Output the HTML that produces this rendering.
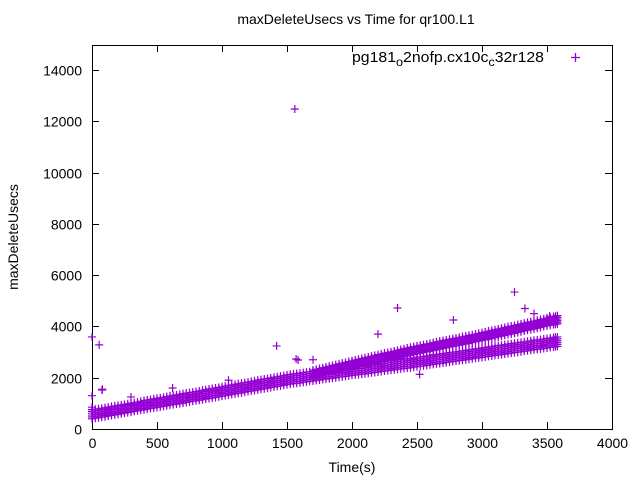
<!DOCTYPE html>
<html><head><meta charset="utf-8"><style>
body{margin:0;background:#fff}
svg{display:block;font-family:"Liberation Sans",sans-serif}
</style></head><body>
<svg id="chart" width="640" height="480">
<text x="356" y="24" text-anchor="middle" font-size="14">maxDeleteUsecs vs Time for qr100.L1</text>
<text x="352" y="472" text-anchor="middle" font-size="14">Time(s)</text>
<text transform="translate(18,237) rotate(-90)" text-anchor="middle" font-size="14">maxDeleteUsecs</text>
<g id="axes"></g>
<g id="marks"></g>
<g>
<text x="352" y="62" font-size="15" textLength="192" lengthAdjust="spacingAndGlyphs">pg181<tspan font-size="12" dy="4">o</tspan><tspan dy="-4">2nofp.cx10c</tspan><tspan font-size="12" dy="4">c</tspan><tspan dy="-4">32r128</tspan></text>
<path d="M571 57.5h9M575.5 53v9" stroke="#9400d3" stroke-width="1.3"/>
</g>
</svg>
<script>
const xTicks=[0,500,1000,1500,2000,2500,3000,3500,4000];
const yTicks=[0,2000,4000,6000,8000,10000,12000,14000];
const times=[0,50,100,150,200,250,300,350,400,450,500,550,600,650,700,750,800,850,900,950,1000,1050,1100,1150,1200,1250,1300,1350,1400,1450,1500,1550,1600,1650,1700,1750,1800,1850,1900,1950,2000,2050,2100,2150,2200,2250,2300,2350,2400,2450,2500,2550,2600,2650,2700,2750,2800,2850,2900,2950,3000,3050,3100,3150,3200,3250,3300,3350,3400,3450,3500,3550,3580];
const lowTop=[760,790,830,880,920,960,1010,1050,1110,1150,1200,1240,1290,1330,1380,1420,1460,1510,1560,1600,1650,1700,1740,1790,1830,1880,1930,1970,2020,2060,2110,2150,2180,2220,2250,2280,2320,2350,2390,2420,2460,2490,2520,2560,2590,2630,2660,2700,2730,2760,2800,2830,2870,2910,2940,2980,3010,3050,3090,3120,3160,3200,3240,3270,3310,3350,3380,3420,3460,3490,3530,3570,3590];
const lowBot=[400,440,480,530,570,620,660,710,750,800,840,880,930,970,1010,1060,1100,1140,1190,1230,1280,1320,1370,1410,1460,1500,1550,1590,1640,1680,1730,1770,1800,1840,1870,1910,1950,1980,2020,2050,2090,2120,2150,2190,2220,2260,2290,2330,2360,2390,2430,2460,2500,2540,2570,2610,2650,2680,2720,2760,2790,2830,2870,2900,2940,2980,3010,3050,3090,3120,3160,3200,3220];
const highTimes=[1700,1750,1800,1850,1900,1950,2000,2050,2100,2150,2200,2250,2300,2350,2400,2450,2500,2550,2600,2650,2700,2750,2800,2850,2900,2950,3000,3050,3100,3150,3200,3250,3300,3350,3400,3450,3500,3550,3580];
const highTop=[2300,2360,2420,2480,2540,2600,2660,2720,2780,2840,2900,2960,3010,3070,3130,3190,3240,3290,3340,3400,3450,3500,3550,3600,3650,3700,3760,3820,3870,3930,3990,4040,4100,4160,4210,4270,4330,4380,4420];
const highBot=[2000,2060,2120,2170,2230,2290,2350,2410,2460,2520,2580,2640,2700,2750,2810,2870,2930,2980,3030,3080,3140,3190,3240,3290,3340,3400,3450,3500,3560,3620,3680,3730,3790,3850,3900,3960,4020,4070,4100];
const outT=[0,0,0,55,80,77,1420,1560,1570,1585,1700,2200,2350,2520,2780,3250,3330,3520,3460,2000,2250,300,620,1050,2680,3150,3400];
const outV=[3590,1300,850,3280,1550,1520,3240,12480,2730,2690,2700,3700,4720,2130,4250,5340,4700,4400,3250,2650,2780,1250,1600,1900,3300,3900,4500];
const X=v=>92+v*520/4000, Y=v=>429-v*359/14000;
const NS="http://www.w3.org/2000/svg";
const axes=document.getElementById('axes'), marks=document.getElementById('marks');
function mk(tag,attrs,parent){const e=document.createElementNS(NS,tag);for(const k in attrs)e.setAttribute(k,attrs[k]);parent.appendChild(e);return e;}
const frame=mk('rect',{x:92.5,y:45.5,width:520,height:384,fill:'none',stroke:'#000'},axes);


xTicks.forEach(t=>{const x=Math.round(X(t))+0.5;
 const l=mk('path',{d:`M${x} 429v-7M${x} 45v7`,stroke:'#000'},axes);
 
 
 const tx=mk('text',{x:x,y:448,'text-anchor':'middle','font-size':14},axes);tx.textContent=t;
 
 });
yTicks.forEach(t=>{const y=Math.round(Y(t))+0.5;
 const l=mk('path',{d:`M92 ${y}h7M612 ${y}h-7`,stroke:'#000'},axes);
 
 
 const tx=mk('text',{x:82,y:y+5,'text-anchor':'end','font-size':14},axes);tx.textContent=t;
 
 });
function plus(t,v){const x=X(t),y=Y(v);
 const p=mk('path',{d:`M${x-4} ${y}h8M${x} ${y-4}v8`,stroke:'#9400d3','stroke-width':1.2},marks);
 
 }
function band(ts,top,bot){ts.forEach((t,i)=>{const a=top[i],b=bot[i];
 for(let k=0;k<=5;k++){plus(t,b+(a-b)*k/5);}
 if(i+1<ts.length){const t2=(t+ts[i+1])/2,a2=(a+top[i+1])/2,b2=(b+bot[i+1])/2;
  for(let k=0;k<=5;k++){plus(t2,b2+(a2-b2)*k/5);}}});}
band(times,lowTop,lowBot);
band(highTimes,highTop,highBot);
outT.forEach((t,i)=>plus(t,outV[i]));
</script>
</body></html>
